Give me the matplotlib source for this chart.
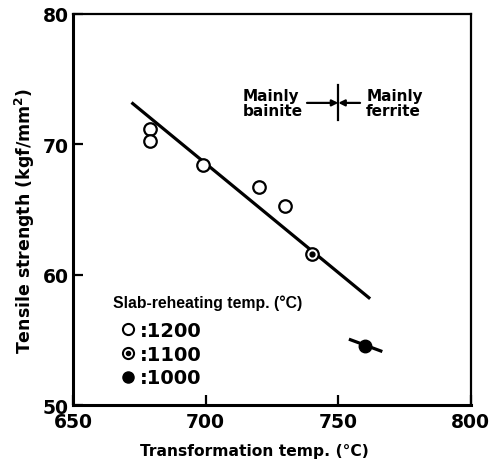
import numpy as np
import matplotlib.pyplot as plt
from matplotlib.lines import Line2D

plt.rcParams.update({
    "font.family": ["DejaVu Sans"],
    "font.weight": "bold",
    "axes.labelweight": "bold",
})

# slab reheating 1200 C (open circles)
t1200 = [679, 679, 699, 720, 730]
ts1200 = [71.2, 70.25, 68.4, 66.7, 65.3]
# 1100 C (bullseye)
t1100 = [740]
ts1100 = [61.55]
# 1000 C (filled)
t1000 = [760]
ts1000 = [54.55]

# regression line for bainite region
fit_x = [672, 762]
fit_y = [73.2, 58.15]
# short line through 1000 C point
fit2_x = [754, 766.6]
fit2_y = [55.05, 54.1]

legend_labels = [":1200", ":1100", ":1000"]

fig = plt.figure(figsize=(4.91, 4.64), dpi=100)
ax = fig.add_axes([0.149, 0.125, 0.810, 0.843])

ax.plot(fit_x, fit_y, color="black", lw=2.3, solid_capstyle="butt", zorder=2)
ax.plot(fit2_x, fit2_y, color="black", lw=2.3, solid_capstyle="butt", zorder=2)

ms = 9
ax.plot(t1200, ts1200, "o", ms=ms, mfc="white", mec="black", mew=1.6, zorder=3)
ax.plot(t1100, ts1100, "o", ms=ms, mfc="white", mec="black", mew=1.6, zorder=3)
ax.plot(t1100, ts1100, "o", ms=3.5, color="black", zorder=4)
ax.plot(t1000, ts1000, "o", ms=ms, color="black", zorder=3)

# bainite / ferrite transition marker
ax.plot([750, 750], [71.85, 74.55], color="black", lw=1.6)
ax.annotate("", xy=(750, 73.17), xytext=(738.2, 73.17),
            arrowprops=dict(arrowstyle="-|>", color="black", lw=1.6,
                            mutation_scale=9, shrinkA=0, shrinkB=0))
ax.annotate("", xy=(750, 73.17), xytext=(758.2, 73.17),
            arrowprops=dict(arrowstyle="-|>", color="black", lw=1.6,
                            mutation_scale=9, shrinkA=0, shrinkB=0))
ax.text(736.5, 73.17, "Mainly\nbainite", ha="right", va="center", fontsize=11,
        linespacing=1.0, multialignment="left")
ax.text(760.5, 73.17, "Mainly\nferrite", ha="left", va="center", fontsize=11,
        linespacing=1.0)

handles = [
    Line2D([], [], ls="none", marker="o", ms=8, mfc="white", mec="black", mew=1.5),
    (Line2D([], [], ls="none", marker="o", ms=8, mfc="white", mec="black", mew=1.5),
     Line2D([], [], ls="none", marker="o", ms=3, color="black")),
    Line2D([], [], ls="none", marker="o", ms=8, color="black"),
]
ax.legend(handles, legend_labels, loc="lower left", bbox_to_anchor=(0.123, 0.045),
          frameon=False, fontsize=14, handlelength=0.6, handletextpad=0.3,
          labelspacing=0.25, borderpad=0, borderaxespad=0)
ax.text(0.10, 0.263, "Slab-reheating temp. (°C)", transform=ax.transAxes,
        ha="left", va="center", fontsize=11.3, family=["Liberation Sans", "DejaVu Sans"])

ax.set_xlim(650, 800)
ax.set_ylim(50, 80)
ax.set_xticks([650, 700, 750, 800])
ax.set_yticks([50, 60, 70, 80])
ax.tick_params(direction="in", length=7, width=1.6, labelsize=13.5, top=False, right=False)
ax.tick_params(axis="y", pad=3)
ax.tick_params(axis="x", pad=5)
for lab in ax.get_xticklabels() + ax.get_yticklabels():
    lab.set_fontweight("bold")
for s in ax.spines.values():
    s.set_linewidth(2.2)
ax.spines["top"].set_linewidth(1.6)
ax.spines["right"].set_linewidth(1.6)

ax.set_xlabel("Transformation temp. (°C)", fontsize=11.2, labelpad=8.5)
ax.set_ylabel("Tensile strength (kgf/mm$^\\mathbf{2}$)", fontsize=12.5, labelpad=4)
ax.xaxis.label.set_x(0.455)
ax.yaxis.label.set_y(0.473)

fig.savefig("out.png", dpi=100)
